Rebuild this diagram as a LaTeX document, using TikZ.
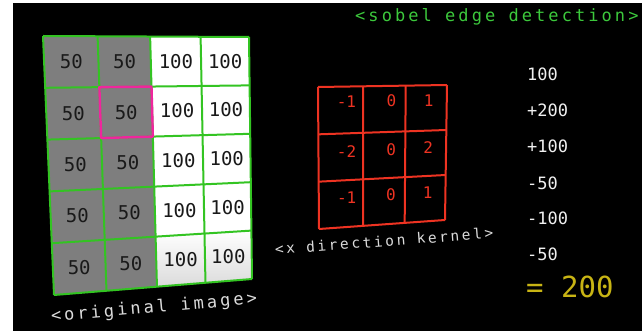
\documentclass[tikz,border=0pt]{standalone}
\usepackage{fontspec}
\usepackage{tikz}
\usepackage{tkz-euclide}
\usepackage{xcolor}
\usetikzlibrary{calc}
\newfontfamily\termfont[LetterSpace=18]{DejaVu Sans Mono}
\newfontfamily\digitfont{DejaVu Sans Mono}
\definecolor{gridgreen}{HTML}{33C422}
\definecolor{titlegreen}{HTML}{3CC83C}
\definecolor{kernelred}{HTML}{EE3322}
\definecolor{cellgray}{HTML}{7E7E7E}
\definecolor{resultyellow}{HTML}{C8B414}
\tikzset{
	greenline/.style={draw=gridgreen, line width=2pt},
	pinkline/.style={draw=magenta!85!white, line width=2.4pt, line join=round},
	redline/.style={draw=kernelred, line width=2pt},
	cellnum/.style={font=\digitfont\fontsize{19}{19}\selectfont, text=black!90},
	kernnum/.style={font=\digitfont\fontsize{16}{16}\selectfont, text=kernelred},
	sumnum/.style={font=\digitfont\fontsize{17}{17}\selectfont, text=white!94!black, anchor=west, inner sep=0pt},
	caption/.style={font=\termfont\fontsize{#1}{#1}\selectfont, text=white!86!black, inner sep=0pt}
}
\begin{document}
\begin{tikzpicture}[x=1pt,y=-1pt]
	\useasboundingbox (0,0) rectangle (642,331);
	\fill[white] (0,0) rectangle (642,331);
	\fill[black] (13,3) rectangle (642,331);
	\tkzDefPoints{43/36/A,249/37/B,252/279/C,54/295/D}
	\foreach \i/\u in {0/0,1/.265,2/.52,3/.765,4/1}{
		\foreach \j in {0,...,5}{
			\pgfmathsetmacro\v{\j/5}
			\coordinate (g-\i-\j) at ($($(A)!\u!(B)$)!\v!($(D)!\u!(C)$)$);
		}
	}
	\fill[cellgray] (g-0-0) -- (g-2-0) -- (g-2-5) -- (g-0-5) -- cycle;
	\fill[white] (g-2-0) -- (g-4-0) -- (g-4-5) -- (g-2-5) -- cycle;
	\shade[top color=white, bottom color=black!14] (g-2-4) -- (g-4-4) -- (g-4-5) -- (g-2-5) -- cycle;
	\foreach \i in {0,...,4}
		\draw[greenline] (g-\i-0) -- (g-\i-5);
	\foreach \j in {0,...,5}
		\draw[greenline] (g-0-\j) -- (g-4-\j);
	\draw[pinkline] (g-1-1) -- (g-2-1) -- (g-2-2) -- (g-1-2) -- cycle;
	\foreach \i/\u in {0/.1325,1/.3925,2/.6425,3/.8825}{
		\foreach \j in {0,...,4}{
			\pgfmathsetmacro\v{(\j+.5)/5}
			\node[cellnum] (val-\i-\j) at ($($(A)!\u!(B)$)!\v!($(D)!\u!(C)$)$) {\ifnum\i<2 50\else 100\fi};
		}
	}
	\node[caption=17, rotate=5] (orig) at (154,308) {<original image>};
	\tkzDefPoints{318/87/K1,447/85/K2,445/220/K3,319/229/K4}
	\foreach \i/\u in {0/0,1/.35,2/.68,3/1}{
		\foreach \j in {0,...,3}{
			\pgfmathsetmacro\v{\j/3}
			\coordinate (k-\i-\j) at ($($(K1)!\u!(K2)$)!\v!($(K4)!\u!(K3)$)$);
		}
	}
	\foreach \i in {0,...,3}
		\draw[redline] (k-\i-0) -- (k-\i-3);
	\foreach \j in {0,...,3}
		\draw[redline] (k-0-\j) -- (k-3-\j);
	\foreach \j/\v/\a/\b/\c in {0/.11/-1/0/1,1/.46/-2/0/2,2/.79/-1/0/1}{
		\node[kernnum] (w-0-\j) at ($($(K1)!.22!(K2)$)!\v!($(K4)!.22!(K3)$)$) {\a};
		\node[kernnum] (w-1-\j) at ($($(K1)!.57!(K2)$)!\v!($(K4)!.57!(K3)$)$) {\b};
		\node[kernnum] (w-2-\j) at ($($(K1)!.86!(K2)$)!\v!($(K4)!.86!(K3)$)$) {\c};
	}
	\node[caption=14.5, rotate=4.4] (kern) at (384,241) {<x direction kernel>};
	\node[caption=17, text=titlegreen, anchor=west] (title) at (355,17) {<sobel edge detection>};
	\foreach \n/\y/\t in {1/74/100,2/110/+200,3/146/+100,4/183/-50,5/218/-100,6/254/-50}
		\node[sumnum] (sum-\n) at (527,\y) {\t};
	\node[sumnum, font=\digitfont\fontsize{29}{29}\selectfont, text=resultyellow] (total) at (526,287) {= 200};
\end{tikzpicture}
\end{document}
